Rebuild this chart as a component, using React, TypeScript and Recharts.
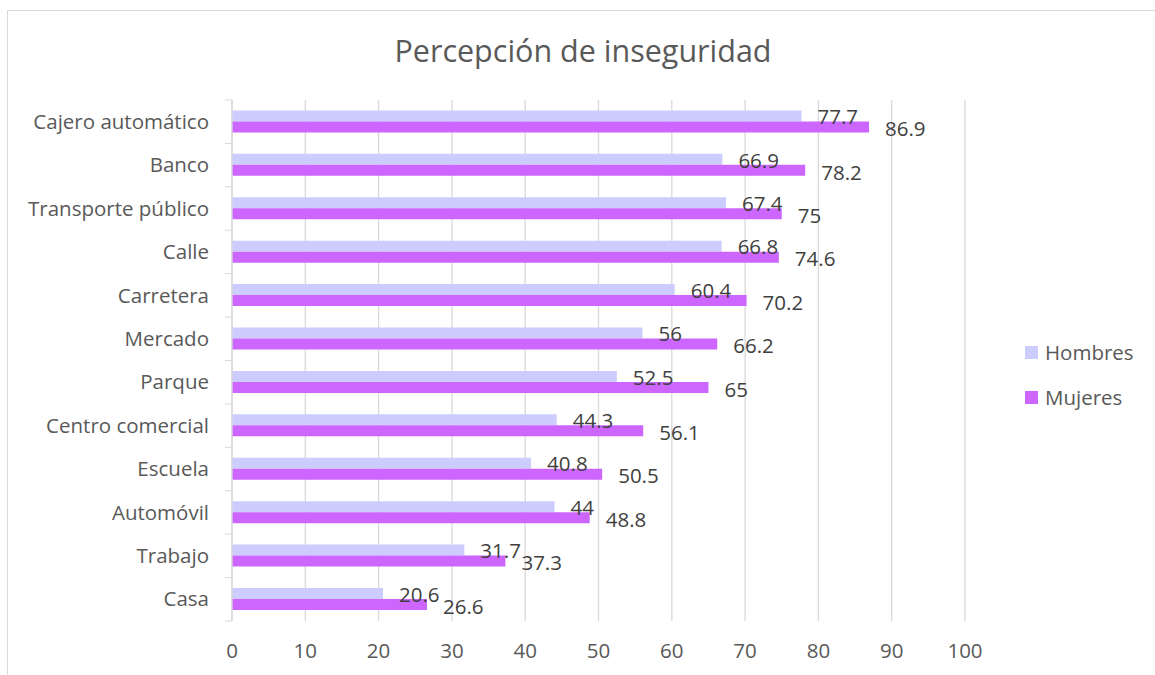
import React from 'react';
import { BarChart, Bar, XAxis, YAxis, CartesianGrid, LabelList } from 'recharts';

const categories = ['Cajero automático', 'Banco', 'Transporte público', 'Calle', 'Carretera', 'Mercado', 'Parque', 'Centro comercial', 'Escuela', 'Automóvil', 'Trabajo', 'Casa'];
const hombres = [77.7, 66.9, 67.4, 66.8, 60.4, 56, 52.5, 44.3, 40.8, 44, 31.7, 20.6];
const mujeres = [86.9, 78.2, 75, 74.6, 70.2, 66.2, 65, 56.1, 50.5, 48.8, 37.3, 26.6];
const xTicks = [0, 10, 20, 30, 40, 50, 60, 70, 80, 90, 100];
const seriesNames = ['Hombres', 'Mujeres'];
const colors = ['#CCCCFF', '#CC66FF'];

const data = categories.map((c, i) => ({ name: c, Hombres: hombres[i], Mujeres: mujeres[i] }));

const W = 1155;
const H = 675;
const X_AXIS_H = 30;
const M = { top: 100, right: 190, bottom: 24, left: 0 };
const AXIS_W = 232;
const PLOT_H = H - M.top - M.bottom - X_AXIS_H;
const BAND = PLOT_H / categories.length;
const FONT = '"Open Sans", sans-serif';
const FS = 20.5;

const CatTick = (props: any) => {
  const { y, payload, index } = props;
  const ax = AXIS_W;
  return (
    <g>
      <line x1={ax - 7} x2={ax} y1={y - BAND / 2} y2={y - BAND / 2} stroke="#D9D9D9" strokeWidth={1} />
      {index === categories.length - 1 && (
        <line x1={ax - 7} x2={ax} y1={y + BAND / 2} y2={y + BAND / 2} stroke="#D9D9D9" strokeWidth={1} />
      )}
      <text x={ax - 23} y={y} dy="0.35em" textAnchor="end" fill="#595959" fontSize={FS} fontFamily={FONT}>
        {payload.value}
      </text>
    </g>
  );
};

const makeLabel = (dyOff: number) => (props: any) => {
  const { x, y, width, height, value } = props;
  return (
    <text x={x + width + 16} y={y + height / 2 + dyOff} dy="0.35em" textAnchor="start" fill="#404040" fontSize={FS} fontFamily={FONT}>
      {value}
    </text>
  );
};

export default function App() {
  return (
    <div style={{ position: 'absolute', left: 0, top: 0, width: W, height: H, overflow: 'hidden', background: '#fff', fontFamily: FONT }}>
      <div style={{ position: 'absolute', left: 7, top: 10, width: 1170, height: 700, border: '1px solid #D9D9D9', boxSizing: 'border-box' }} />
      <div style={{ position: 'absolute', left: 0, top: 28, width: 1166, textAlign: 'center', fontSize: 30.5, color: '#595959', lineHeight: '44px' }}>
        Percepción de inseguridad
      </div>
      <div style={{ position: 'absolute', left: 0, top: 0 }}>
        <BarChart width={W} height={H} data={data} layout="vertical" margin={M} barCategoryGap="24%" barGap={0}>
          <CartesianGrid horizontal={false} vertical={true} stroke="#D9D9D9" strokeWidth={1.3} />
          <XAxis type="number" domain={[0, 100]} ticks={xTicks} axisLine={false} tickLine={false} tickMargin={16}
            height={X_AXIS_H} tick={{ fill: '#595959', fontSize: FS, fontFamily: FONT }} interval={0} />
          <YAxis type="category" dataKey="name" width={AXIS_W} axisLine={{ stroke: '#D9D9D9', strokeWidth: 1.3 }} tickLine={false}
            tick={<CatTick />} interval={0} />
          <Bar dataKey="Hombres" fill={colors[0]} isAnimationActive={false}>
            <LabelList dataKey="Hombres" content={makeLabel(1)} />
          </Bar>
          <Bar dataKey="Mujeres" fill={colors[1]} isAnimationActive={false}>
            <LabelList dataKey="Mujeres" content={makeLabel(2)} />
          </Bar>
        </BarChart>
      </div>
      {seriesNames.map((s, i) => (
        <div key={s} style={{ position: 'absolute', left: 1025, top: 338 + i * 45, display: 'flex', alignItems: 'center', fontSize: FS, color: '#595959', lineHeight: '28px' }}>
          <span style={{ display: 'inline-block', width: 13, height: 13, background: colors[i], marginRight: 7 }} />
          <span>{s}</span>
        </div>
      ))}
    </div>
  );
}
